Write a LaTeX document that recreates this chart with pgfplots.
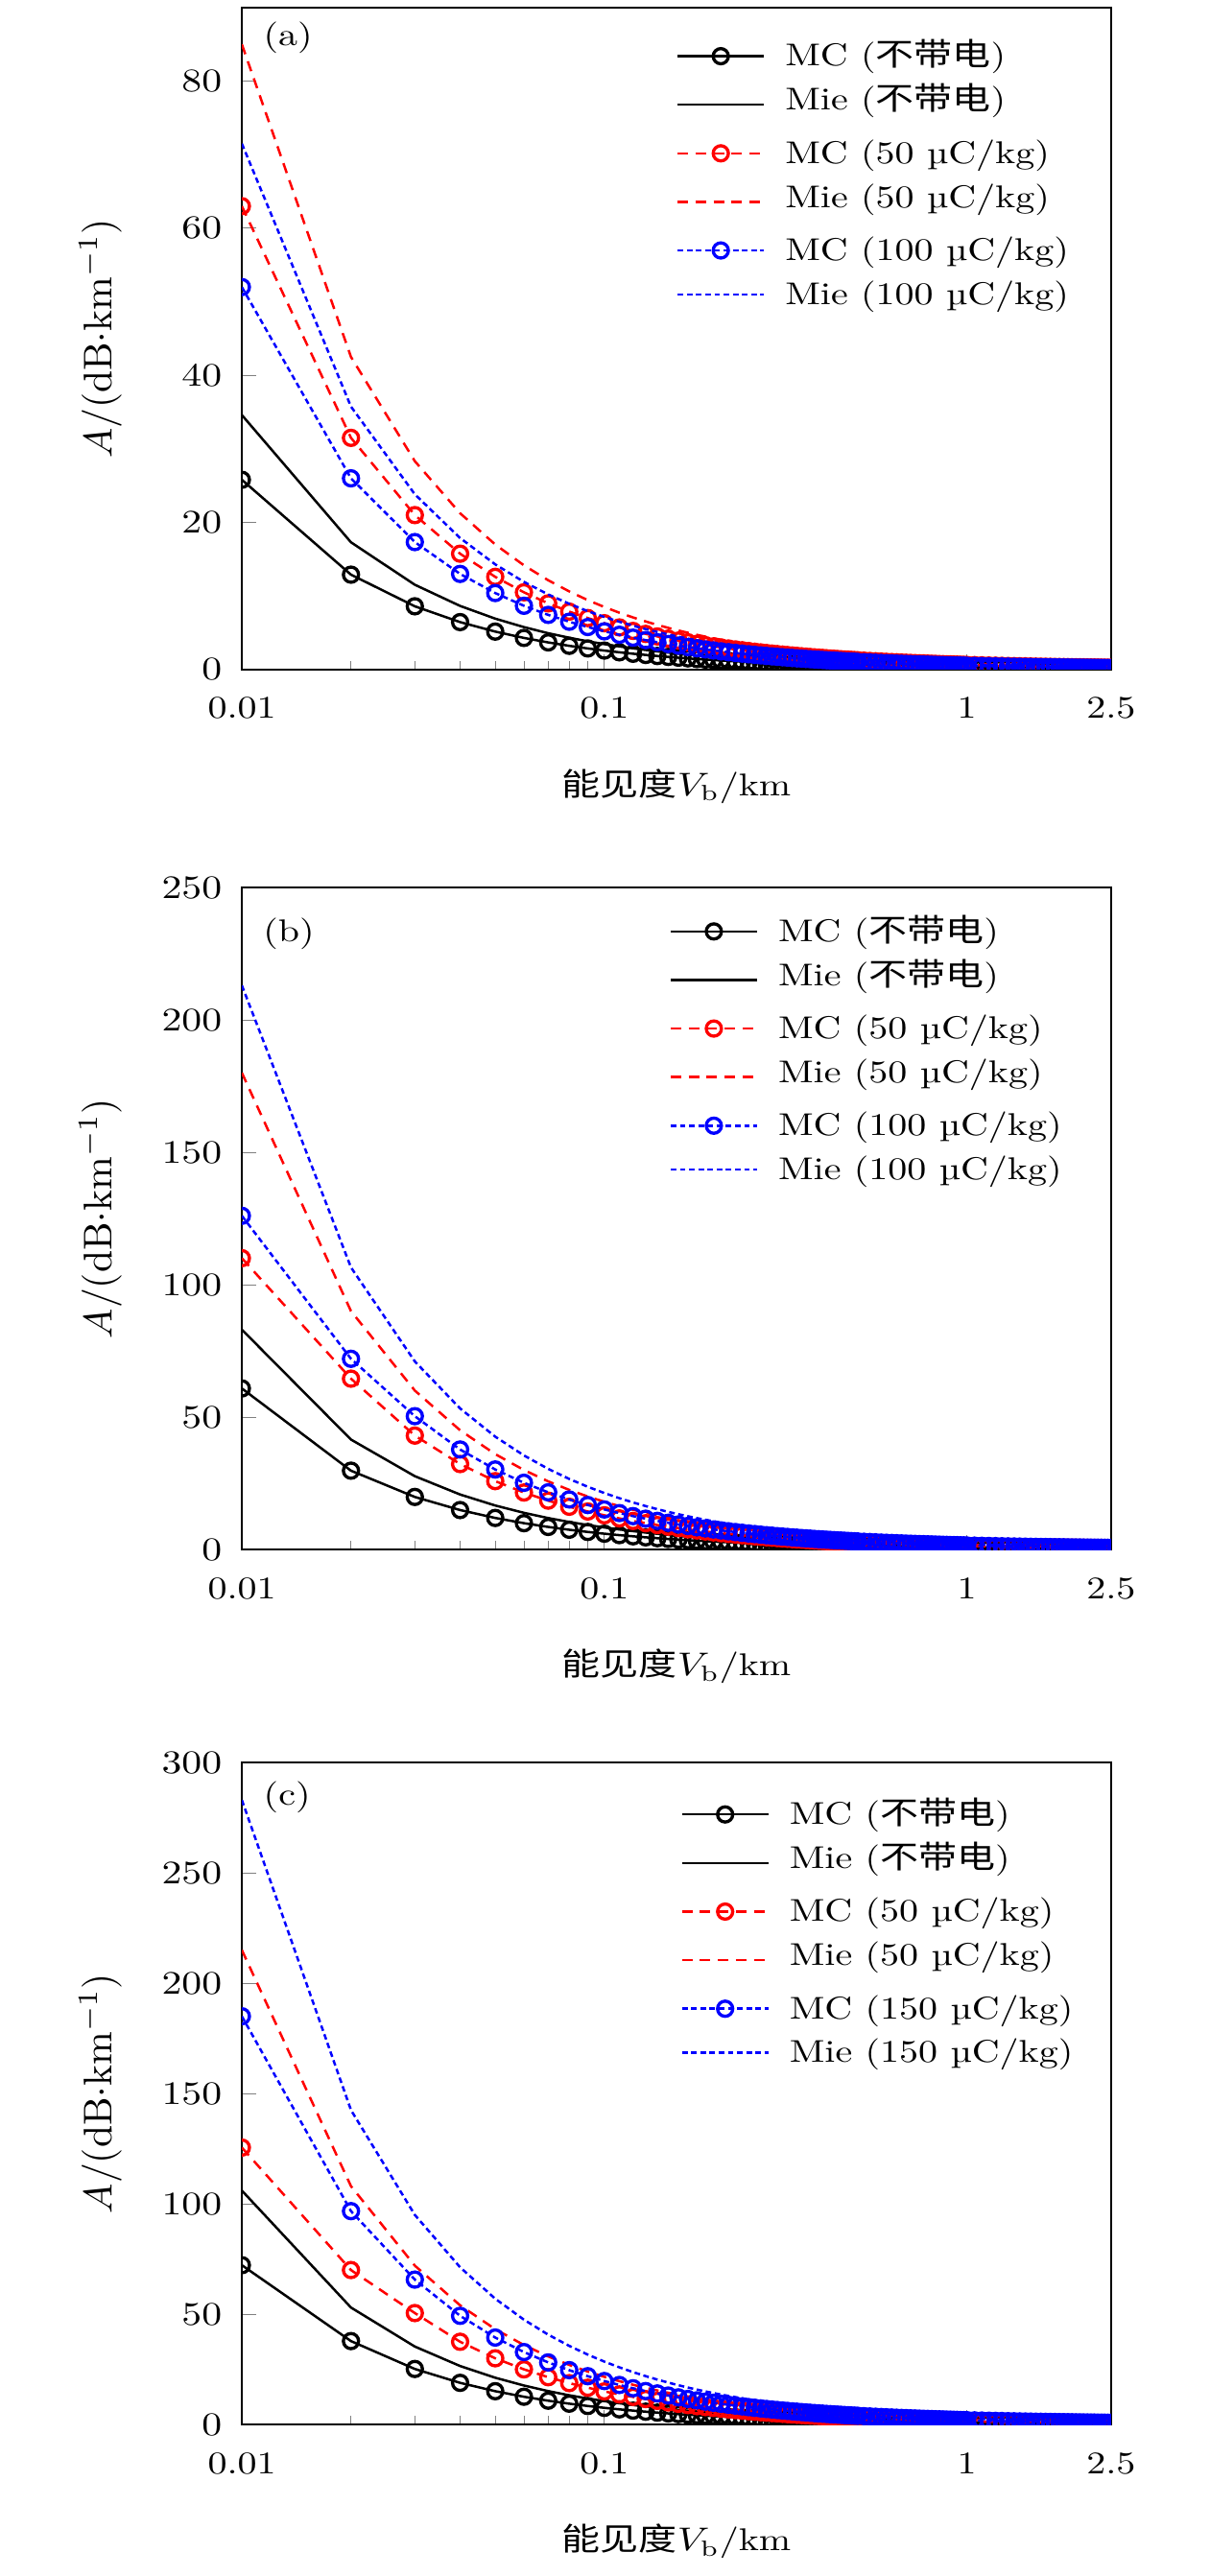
\documentclass[border=0pt]{standalone}
\usepackage{fontspec}
\usepackage{graphicx}
\usepackage{pgfplots}
\usepackage{pgfplotstable}
\pgfplotsset{compat=1.18}
\newfontfamily\cjk{Noto Sans CJK SC}
\newcommand\tf{\fontsize{9.6}{11.5}\selectfont}
\newcommand\sq[1]{\scalebox{1}[0.82]{#1}}
\newcommand\lgt[1]{{\tf\sq{#1}}}
\newcommand\sa{\rule[-3pt]{0pt}{11pt}}
\newcommand\sbb{\rule[-5.3pt]{0pt}{13.3pt}}

% columns: x, MC uncharged, Mie uncharged, MC 50, Mie 50, MC q, Mie q
\pgfplotstableread{
x a b c d e f
0.01 25.8 34.6 63.0 85.0 52.0 71.5
0.02 12.9 17.3 31.5 42.5 26.0 35.75
0.03 8.60 11.53 21.0 28.33 17.33 23.83
0.04 6.45 8.65 15.75 21.25 13.0 17.88
0.05 5.16 6.92 12.6 17.0 10.4 14.3
0.06 4.30 5.77 10.5 14.17 8.67 11.92
0.07 3.69 4.94 9.0 12.14 7.43 10.21
0.08 3.225 4.325 7.875 10.625 6.5 8.94
0.09 2.87 3.84 7.0 9.44 5.78 7.94
0.10 2.58 3.46 6.3 8.5 5.2 7.15
0.11 2.345 3.145 5.727 7.727 4.727 6.5
0.12 2.15 2.883 5.25 7.083 4.333 5.958
0.13 1.985 2.662 4.846 6.538 4.0 5.5
0.14 1.843 2.471 4.5 6.071 3.714 5.107
0.15 1.72 2.307 4.2 5.667 3.467 4.767
0.16 1.6125 2.1625 3.9375 5.3125 3.25 4.469
0.17 1.518 2.035 3.706 5.0 3.059 4.206
0.18 1.433 1.922 3.5 4.722 2.889 3.972
0.19 1.358 1.821 3.316 4.474 2.737 3.763
0.20 1.29 1.73 3.15 4.25 2.6 3.575
0.21 1.229 1.648 3.0 4.048 2.476 3.405
0.22 1.173 1.573 2.864 3.864 2.364 3.25
0.23 1.122 1.504 2.739 3.696 2.261 3.109
0.24 1.075 1.442 2.625 3.542 2.167 2.979
0.25 1.032 1.384 2.52 3.4 2.08 2.86
0.26 0.992 1.331 2.423 3.269 2.0 2.75
0.27 0.956 1.281 2.333 3.148 1.926 2.648
0.28 0.921 1.236 2.25 3.036 1.857 2.554
0.29 0.890 1.193 2.172 2.931 1.793 2.466
0.30 0.86 1.153 2.1 2.833 1.733 2.383
0.31 0.832 1.116 2.032 2.742 1.677 2.306
0.32 0.806 1.081 1.969 2.656 1.625 2.234
0.33 0.782 1.048 1.909 2.576 1.576 2.167
0.34 0.759 1.018 1.853 2.5 1.529 2.103
0.35 0.737 0.989 1.8 2.429 1.486 2.043
0.36 0.717 0.961 1.75 2.361 1.444 1.986
0.37 0.697 0.935 1.703 2.297 1.405 1.932
0.38 0.679 0.911 1.658 2.237 1.368 1.882
0.39 0.662 0.887 1.615 2.179 1.333 1.833
0.40 0.645 0.865 1.575 2.125 1.3 1.788
0.41 0.629 0.844 1.537 2.073 1.268 1.744
0.42 0.614 0.824 1.5 2.024 1.238 1.702
0.43 0.6 0.805 1.465 1.977 1.209 1.663
0.44 0.586 0.786 1.432 1.932 1.182 1.625
0.45 0.573 0.769 1.4 1.889 1.156 1.589
0.46 0.561 0.752 1.37 1.848 1.13 1.554
0.47 0.549 0.736 1.34 1.809 1.106 1.521
0.48 0.5375 0.721 1.3125 1.771 1.083 1.49
0.49 0.527 0.706 1.286 1.735 1.061 1.459
0.50 0.516 0.692 1.26 1.7 1.04 1.43
0.52 0.496 0.665 1.212 1.635 1.0 1.375
0.54 0.478 0.641 1.167 1.574 0.963 1.324
0.56 0.461 0.618 1.125 1.518 0.929 1.277
0.58 0.445 0.597 1.086 1.466 0.897 1.233
0.60 0.43 0.577 1.05 1.417 0.867 1.192
0.62 0.416 0.558 1.016 1.371 0.839 1.153
0.64 0.403 0.541 0.984 1.328 0.8125 1.117
0.66 0.391 0.524 0.955 1.288 0.788 1.083
0.68 0.379 0.509 0.926 1.25 0.765 1.051
0.70 0.369 0.494 0.9 1.214 0.743 1.021
0.72 0.358 0.481 0.875 1.181 0.722 0.993
0.74 0.349 0.468 0.851 1.149 0.703 0.966
0.76 0.339 0.455 0.829 1.118 0.684 0.941
0.78 0.331 0.444 0.808 1.09 0.667 0.917
0.80 0.3225 0.4325 0.7875 1.0625 0.65 0.894
0.82 0.315 0.422 0.768 1.037 0.634 0.872
0.84 0.307 0.412 0.75 1.012 0.619 0.851
0.86 0.3 0.402 0.733 0.988 0.605 0.831
0.88 0.293 0.393 0.716 0.966 0.591 0.8125
0.90 0.287 0.384 0.7 0.944 0.578 0.794
0.92 0.28 0.376 0.685 0.924 0.565 0.777
0.94 0.274 0.368 0.670 0.904 0.553 0.761
0.96 0.269 0.36 0.656 0.885 0.542 0.745
0.98 0.263 0.353 0.643 0.867 0.531 0.73
1.00 0.258 0.346 0.63 0.85 0.52 0.715
1.05 0.246 0.33 0.6 0.81 0.495 0.681
1.10 0.235 0.315 0.573 0.773 0.473 0.65
1.15 0.224 0.301 0.548 0.739 0.452 0.622
1.20 0.215 0.288 0.525 0.708 0.433 0.596
1.25 0.206 0.277 0.504 0.68 0.416 0.572
1.30 0.198 0.266 0.485 0.654 0.4 0.55
1.35 0.191 0.256 0.467 0.63 0.385 0.53
1.40 0.184 0.247 0.45 0.607 0.371 0.511
1.45 0.178 0.239 0.434 0.586 0.359 0.493
1.50 0.172 0.231 0.42 0.567 0.347 0.477
1.55 0.166 0.223 0.406 0.548 0.335 0.461
1.60 0.161 0.216 0.394 0.531 0.325 0.447
1.65 0.156 0.21 0.382 0.515 0.315 0.433
1.70 0.152 0.204 0.371 0.5 0.306 0.421
1.75 0.147 0.198 0.36 0.486 0.297 0.409
1.80 0.143 0.192 0.35 0.472 0.289 0.397
1.85 0.139 0.187 0.341 0.459 0.281 0.386
1.90 0.136 0.182 0.332 0.447 0.274 0.376
1.95 0.132 0.177 0.323 0.436 0.267 0.367
2.00 0.129 0.173 0.315 0.425 0.26 0.358
2.05 0.126 0.169 0.307 0.415 0.254 0.349
2.10 0.123 0.165 0.3 0.405 0.248 0.34
2.15 0.12 0.161 0.293 0.395 0.242 0.333
2.20 0.117 0.157 0.286 0.386 0.236 0.325
2.25 0.115 0.154 0.28 0.378 0.231 0.318
2.30 0.112 0.15 0.274 0.37 0.226 0.311
2.35 0.11 0.147 0.268 0.362 0.221 0.304
2.40 0.1075 0.144 0.2625 0.354 0.217 0.298
2.45 0.105 0.141 0.257 0.347 0.212 0.292
2.50 0.103 0.138 0.252 0.34 0.208 0.286
}\tA

\pgfplotstableread{
x a b c d e f
0.01 60.8 83.0 110 180 126 213
0.02 29.75 41.5 64.5 90 72 106.5
0.03 19.83 27.67 43.0 60.0 50.33 71.0
0.04 14.88 20.75 32.25 45.0 37.75 53.25
0.05 11.9 16.6 25.8 36.0 30.2 42.6
0.06 9.92 13.83 21.5 30.0 25.17 35.5
0.07 8.5 11.86 18.43 25.71 21.57 30.43
0.08 7.44 10.375 16.125 22.5 18.875 26.625
0.09 6.61 9.22 14.33 20.0 16.78 23.67
0.10 5.95 8.3 12.9 18.0 15.1 21.3
0.11 5.41 7.55 11.73 16.36 13.73 19.36
0.12 4.96 6.92 10.75 15.0 12.58 17.75
0.13 4.58 6.38 9.92 13.85 11.62 16.38
0.14 4.25 5.93 9.21 12.86 10.79 15.21
0.15 3.97 5.53 8.6 12.0 10.07 14.2
0.16 3.72 5.19 8.06 11.25 9.44 13.31
0.17 3.5 4.88 7.59 10.59 8.88 12.53
0.18 3.31 4.61 7.17 10.0 8.39 11.83
0.19 3.13 4.37 6.79 9.47 7.95 11.21
0.20 2.975 4.15 6.45 9.0 7.55 10.65
0.21 2.83 3.95 6.14 8.57 7.19 10.14
0.22 2.7 3.77 5.86 8.18 6.86 9.68
0.23 2.59 3.61 5.61 7.83 6.57 9.26
0.24 2.48 3.46 5.375 7.5 6.29 8.875
0.25 2.38 3.32 5.16 7.2 6.04 8.52
0.26 2.29 3.19 4.96 6.92 5.81 8.19
0.27 2.2 3.07 4.78 6.67 5.59 7.89
0.28 2.125 2.96 4.61 6.43 5.39 7.61
0.29 2.05 2.86 4.45 6.21 5.21 7.34
0.30 1.98 2.77 4.3 6.0 5.03 7.1
0.31 1.92 2.68 4.16 5.81 4.87 6.87
0.32 1.86 2.59 4.03 5.625 4.72 6.66
0.33 1.8 2.52 3.91 5.45 4.58 6.45
0.34 1.75 2.44 3.79 5.29 4.44 6.26
0.35 1.7 2.37 3.69 5.14 4.31 6.09
0.36 1.65 2.31 3.58 5.0 4.19 5.92
0.37 1.61 2.24 3.49 4.86 4.08 5.76
0.38 1.57 2.18 3.39 4.74 3.97 5.61
0.39 1.53 2.13 3.31 4.62 3.87 5.46
0.40 1.49 2.075 3.225 4.5 3.775 5.325
0.41 1.45 2.02 3.15 4.39 3.68 5.2
0.42 1.42 1.98 3.07 4.29 3.6 5.07
0.43 1.38 1.93 3.0 4.19 3.51 4.95
0.44 1.35 1.89 2.93 4.09 3.43 4.84
0.45 1.32 1.84 2.87 4.0 3.36 4.73
0.46 1.29 1.8 2.8 3.91 3.28 4.63
0.47 1.27 1.77 2.74 3.83 3.21 4.53
0.48 1.24 1.73 2.69 3.75 3.15 4.44
0.49 1.21 1.69 2.63 3.67 3.08 4.35
0.50 1.19 1.66 2.58 3.6 3.02 4.26
0.52 1.14 1.6 2.48 3.46 2.9 4.1
0.54 1.1 1.54 2.39 3.33 2.8 3.94
0.56 1.06 1.48 2.3 3.21 2.7 3.8
0.58 1.03 1.43 2.22 3.1 2.6 3.67
0.60 0.99 1.38 2.15 3.0 2.52 3.55
0.62 0.96 1.34 2.08 2.9 2.44 3.44
0.64 0.93 1.3 2.02 2.81 2.36 3.33
0.66 0.9 1.26 1.95 2.73 2.29 3.23
0.68 0.875 1.22 1.9 2.65 2.22 3.13
0.70 0.85 1.19 1.84 2.57 2.16 3.04
0.72 0.83 1.15 1.79 2.5 2.1 2.96
0.74 0.8 1.12 1.74 2.43 2.04 2.88
0.76 0.78 1.09 1.7 2.37 1.99 2.8
0.78 0.76 1.06 1.65 2.31 1.94 2.73
0.80 0.74 1.04 1.61 2.25 1.89 2.66
0.82 0.73 1.01 1.57 2.2 1.84 2.6
0.84 0.71 0.99 1.54 2.14 1.8 2.54
0.86 0.69 0.97 1.5 2.09 1.76 2.48
0.88 0.68 0.94 1.47 2.05 1.72 2.42
0.90 0.66 0.92 1.43 2.0 1.68 2.37
0.92 0.65 0.9 1.4 1.96 1.64 2.32
0.94 0.63 0.88 1.37 1.91 1.61 2.27
0.96 0.62 0.86 1.34 1.875 1.57 2.22
0.98 0.61 0.85 1.32 1.84 1.54 2.17
1.00 0.595 0.83 1.29 1.8 1.51 2.13
1.05 0.57 0.79 1.23 1.71 1.44 2.03
1.10 0.54 0.75 1.17 1.64 1.37 1.94
1.15 0.52 0.72 1.12 1.57 1.31 1.85
1.20 0.5 0.69 1.075 1.5 1.26 1.775
1.25 0.48 0.66 1.03 1.44 1.21 1.7
1.30 0.46 0.64 0.99 1.38 1.16 1.64
1.35 0.44 0.61 0.96 1.33 1.12 1.58
1.40 0.425 0.59 0.92 1.29 1.08 1.52
1.45 0.41 0.57 0.89 1.24 1.04 1.47
1.50 0.4 0.55 0.86 1.2 1.0 1.42
1.55 0.38 0.54 0.83 1.16 0.97 1.37
1.60 0.37 0.52 0.81 1.125 0.94 1.33
1.65 0.36 0.5 0.78 1.09 0.92 1.29
1.70 0.35 0.49 0.76 1.06 0.89 1.25
1.75 0.34 0.47 0.74 1.03 0.86 1.22
1.80 0.33 0.46 0.72 1.0 0.84 1.18
1.85 0.32 0.45 0.7 0.97 0.82 1.15
1.90 0.31 0.44 0.68 0.95 0.79 1.12
1.95 0.305 0.43 0.66 0.92 0.77 1.09
2.00 0.3 0.415 0.645 0.9 0.755 1.065
2.05 0.29 0.405 0.63 0.88 0.74 1.04
2.10 0.28 0.395 0.61 0.86 0.72 1.01
2.15 0.28 0.386 0.6 0.84 0.7 0.99
2.20 0.27 0.377 0.59 0.82 0.69 0.97
2.25 0.26 0.369 0.57 0.8 0.67 0.95
2.30 0.26 0.361 0.56 0.78 0.66 0.93
2.35 0.25 0.353 0.55 0.77 0.64 0.91
2.40 0.25 0.346 0.54 0.75 0.63 0.89
2.45 0.24 0.339 0.53 0.73 0.62 0.87
2.50 0.24 0.332 0.52 0.72 0.6 0.85
}\tB

\pgfplotstableread{
x a b c d e f
0.01 72.2 106 125.5 215 185 283
0.02 37.8 53.0 70.0 108 96.7 142.5
0.03 25.17 35.33 50.5 72.0 65.67 95.0
0.04 18.88 26.5 37.5 54.0 49.25 71.25
0.05 15.1 21.2 30.0 43.2 39.4 57.0
0.06 12.58 17.67 25.0 36.0 32.83 47.5
0.07 10.79 15.14 21.43 30.86 28.14 40.71
0.08 9.44 13.25 18.75 27.0 24.63 35.63
0.09 8.39 11.78 16.67 24.0 21.89 31.67
0.10 7.55 10.6 15.0 21.6 19.7 28.5
0.11 6.86 9.64 13.64 19.64 17.91 25.91
0.12 6.29 8.83 12.5 18.0 16.42 23.75
0.13 5.81 8.15 11.54 16.62 15.15 21.92
0.14 5.39 7.57 10.71 15.43 14.07 20.36
0.15 5.03 7.07 10.0 14.4 13.13 19.0
0.16 4.72 6.625 9.375 13.5 12.31 17.81
0.17 4.44 6.24 8.82 12.71 11.59 16.76
0.18 4.19 5.89 8.33 12.0 10.94 15.83
0.19 3.97 5.58 7.89 11.37 10.37 15.0
0.20 3.775 5.3 7.5 10.8 9.85 14.25
0.21 3.6 5.05 7.14 10.29 9.38 13.57
0.22 3.43 4.82 6.82 9.82 8.95 12.95
0.23 3.28 4.61 6.52 9.39 8.57 12.39
0.24 3.15 4.42 6.25 9.0 8.21 11.875
0.25 3.02 4.24 6.0 8.64 7.88 11.4
0.26 2.9 4.08 5.77 8.31 7.58 10.96
0.27 2.8 3.93 5.56 8.0 7.3 10.56
0.28 2.7 3.79 5.36 7.71 7.04 10.18
0.29 2.6 3.66 5.17 7.45 6.79 9.83
0.30 2.52 3.53 5.0 7.2 6.57 9.5
0.31 2.44 3.42 4.84 6.97 6.35 9.19
0.32 2.36 3.31 4.69 6.75 6.16 8.91
0.33 2.29 3.21 4.55 6.55 5.97 8.64
0.34 2.22 3.12 4.41 6.35 5.79 8.38
0.35 2.16 3.03 4.29 6.17 5.63 8.14
0.36 2.1 2.94 4.17 6.0 5.47 7.92
0.37 2.04 2.86 4.05 5.84 5.32 7.7
0.38 1.99 2.79 3.95 5.68 5.18 7.5
0.39 1.94 2.72 3.85 5.54 5.05 7.31
0.40 1.89 2.65 3.75 5.4 4.925 7.125
0.41 1.84 2.59 3.66 5.27 4.8 6.95
0.42 1.8 2.52 3.57 5.14 4.69 6.79
0.43 1.76 2.47 3.49 5.02 4.58 6.63
0.44 1.72 2.41 3.41 4.91 4.48 6.48
0.45 1.68 2.36 3.33 4.8 4.38 6.33
0.46 1.64 2.3 3.26 4.7 4.28 6.2
0.47 1.61 2.26 3.19 4.6 4.19 6.06
0.48 1.57 2.21 3.125 4.5 4.1 5.94
0.49 1.54 2.16 3.06 4.41 4.02 5.82
0.50 1.51 2.12 3.0 4.32 3.94 5.7
0.52 1.45 2.04 2.88 4.15 3.79 5.48
0.54 1.4 1.96 2.78 4.0 3.65 5.28
0.56 1.35 1.89 2.68 3.86 3.52 5.09
0.58 1.3 1.83 2.59 3.72 3.4 4.91
0.60 1.26 1.77 2.5 3.6 3.28 4.75
0.62 1.22 1.71 2.42 3.48 3.18 4.6
0.64 1.18 1.66 2.34 3.375 3.08 4.45
0.66 1.14 1.61 2.27 3.27 2.98 4.32
0.68 1.11 1.56 2.21 3.18 2.9 4.19
0.70 1.08 1.51 2.14 3.09 2.81 4.07
0.72 1.05 1.47 2.08 3.0 2.74 3.96
0.74 1.02 1.43 2.03 2.92 2.66 3.85
0.76 0.99 1.39 1.97 2.84 2.59 3.75
0.78 0.97 1.36 1.92 2.77 2.53 3.65
0.80 0.94 1.325 1.875 2.7 2.46 3.56
0.82 0.92 1.29 1.83 2.63 2.4 3.48
0.84 0.9 1.26 1.79 2.57 2.35 3.39
0.86 0.88 1.23 1.74 2.51 2.29 3.31
0.88 0.86 1.2 1.7 2.45 2.24 3.24
0.90 0.84 1.18 1.67 2.4 2.19 3.17
0.92 0.82 1.15 1.63 2.35 2.14 3.1
0.94 0.8 1.13 1.6 2.3 2.1 3.03
0.96 0.79 1.1 1.56 2.25 2.05 2.97
0.98 0.77 1.08 1.53 2.2 2.01 2.91
1.00 0.755 1.06 1.5 2.16 1.97 2.85
1.05 0.72 1.01 1.43 2.06 1.88 2.71
1.10 0.69 0.96 1.36 1.96 1.79 2.59
1.15 0.66 0.92 1.3 1.88 1.71 2.48
1.20 0.63 0.88 1.25 1.8 1.64 2.375
1.25 0.6 0.85 1.2 1.73 1.58 2.28
1.30 0.58 0.82 1.15 1.66 1.52 2.19
1.35 0.56 0.79 1.11 1.6 1.46 2.11
1.40 0.54 0.76 1.07 1.54 1.41 2.04
1.45 0.52 0.73 1.03 1.49 1.36 1.97
1.50 0.5 0.71 1.0 1.44 1.31 1.9
1.55 0.49 0.68 0.97 1.39 1.27 1.84
1.60 0.47 0.66 0.94 1.35 1.23 1.78
1.65 0.46 0.64 0.91 1.31 1.19 1.73
1.70 0.44 0.62 0.88 1.27 1.16 1.68
1.75 0.43 0.61 0.86 1.23 1.13 1.63
1.80 0.42 0.59 0.83 1.2 1.09 1.58
1.85 0.41 0.57 0.81 1.17 1.06 1.54
1.90 0.4 0.56 0.79 1.14 1.04 1.5
1.95 0.39 0.54 0.77 1.11 1.01 1.46
2.00 0.38 0.53 0.75 1.08 0.985 1.425
2.05 0.37 0.52 0.73 1.05 0.96 1.39
2.10 0.36 0.5 0.71 1.03 0.94 1.36
2.15 0.35 0.49 0.7 1.0 0.92 1.33
2.20 0.34 0.48 0.68 0.98 0.9 1.3
2.25 0.34 0.47 0.67 0.96 0.88 1.27
2.30 0.33 0.46 0.65 0.94 0.86 1.24
2.35 0.32 0.45 0.64 0.92 0.84 1.21
2.40 0.31 0.44 0.625 0.9 0.82 1.19
2.45 0.31 0.43 0.61 0.88 0.8 1.16
2.50 0.3 0.42 0.6 0.86 0.79 1.14
}\tC

\pgfplotsset{
  every axis/.append style={
    scale only axis, width=217.4pt, height=165.6pt,
    xmin=0.01, xmax=2.5,
    xtick={0.01,0.1,1,2.5}, xticklabels={0.01,0.1,1,2.5},
    minor xtick={0.02,0.03,0.04,0.05,0.06,0.07,0.08,0.09,0.2,0.3,0.4,0.5,0.6,0.7,0.8,0.9,2},
    xtick pos=bottom, ytick pos=left, tick align=inside,
    major tick length=3.7pt, minor tick length=2.2pt,
    axis line style={line width=0.55pt},
    ymin=0,
    tick label style={font=\tf, yscale=0.82},
    xticklabel style={yshift=-5pt},
    yticklabel style={xshift=-1.5pt},
    xlabel={\sq{{\cjk 能见度}$V_\mathrm{b}$/km}},
    ylabel={$A/(\mathrm{dB{\cdot}km^{-1}})$},
    xlabel style={at={(axis description cs:0.5,-0.177)},anchor=center,font=\tf},
    ylabel style={at={(axis description cs:-0.163,0.5)},anchor=center},
    clip marker paths=true,
    legend cell align=left,
  },
  legend image code/.code={\draw[mark repeat=2,mark phase=2,#1] plot coordinates {(0pt,0pt) (10.8pt,0pt) (21.6pt,0pt)};},
  mc/.style={mark=o, mark size=1.9pt, mark options={solid, line width=0.8pt}},
  k0/.style={black, line width=0.6pt, solid},
  k1/.style={red, line width=0.6pt, dash pattern=on 2.6pt off 1.9pt},
  k2/.style={blue, line width=0.6pt, dash pattern=on 1.4pt off 0.9pt},
}

\begin{document}
\begin{tikzpicture}
\path[use as bounding box] (0,0) rectangle (302.4pt,-644.4pt);

% (a)
\begin{axis}[xmode=log, at={(60.5pt,-1.9pt)}, anchor=north west,
  ymax=90, ytick={0,20,40,60,80},
  legend style={at={(0.499,0.961)}, anchor=north west, draw=none, fill=none, inner sep=0pt, row sep=0pt, column sep=3pt, font=\tf, nodes={inner xsep=2pt, inner ysep=0pt, text depth=, text height=}}]
\addplot[k0,mc] table[x=x,y=a]{\tA}; \addlegendentry{\lgt{MC ({\cjk 不带电})}\sa}
\addplot[k0] table[x=x,y=b]{\tA}; \addlegendentry{\lgt{Mie ({\cjk 不带电})}\sbb}
\addplot[k1,mc] table[x=x,y=c]{\tA}; \addlegendentry{\lgt{MC (50 µC/kg)}\sa}
\addplot[k1] table[x=x,y=d]{\tA}; \addlegendentry{\lgt{Mie (50 µC/kg)}\sbb}
\addplot[k2,mc] table[x=x,y=e]{\tA}; \addlegendentry{\lgt{MC (100 µC/kg)}\sa}
\addplot[k2] table[x=x,y=f]{\tA}; \addlegendentry{\lgt{Mie (100 µC/kg)}\sa}
\node[font=\tf] at (rel axis cs:0.053,0.954) {\sq{(a)}};
\end{axis}

% (b)
\begin{axis}[xmode=log, at={(60.5pt,-222pt)}, anchor=north west,
  ymax=250, ytick={0,50,100,150,200,250},
  legend style={at={(0.491,0.968)}, anchor=north west, draw=none, fill=none, inner sep=0pt, row sep=0pt, column sep=3pt, font=\tf, nodes={inner xsep=2pt, inner ysep=0pt, text depth=, text height=}}]
\addplot[k0,mc] table[x=x,y=a]{\tB}; \addlegendentry{\lgt{MC ({\cjk 不带电})}\sa}
\addplot[k0] table[x=x,y=b]{\tB}; \addlegendentry{\lgt{Mie ({\cjk 不带电})}\sbb}
\addplot[k1,mc] table[x=x,y=c]{\tB}; \addlegendentry{\lgt{MC (50 µC/kg)}\sa}
\addplot[k1] table[x=x,y=d]{\tB}; \addlegendentry{\lgt{Mie (50 µC/kg)}\sbb}
\addplot[k2,mc] table[x=x,y=e]{\tB}; \addlegendentry{\lgt{MC (100 µC/kg)}\sa}
\addplot[k2] table[x=x,y=f]{\tB}; \addlegendentry{\lgt{Mie (100 µC/kg)}\sa}
\node[font=\tf] at (rel axis cs:0.054,0.93) {\sq{(b)}};
\end{axis}

% (c)
\begin{axis}[xmode=log, at={(60.5pt,-440.9pt)}, anchor=north west,
  ymax=300, ytick={0,50,100,150,200,250,300},
  legend style={at={(0.504,0.956)}, anchor=north west, draw=none, fill=none, inner sep=0pt, row sep=0pt, column sep=3pt, font=\tf, nodes={inner xsep=2pt, inner ysep=0pt, text depth=, text height=}}]
\addplot[k0,mc] table[x=x,y=a]{\tC}; \addlegendentry{\lgt{MC ({\cjk 不带电})}\sa}
\addplot[k0] table[x=x,y=b]{\tC}; \addlegendentry{\lgt{Mie ({\cjk 不带电})}\sbb}
\addplot[k1,mc] table[x=x,y=c]{\tC}; \addlegendentry{\lgt{MC (50 µC/kg)}\sa}
\addplot[k1] table[x=x,y=d]{\tC}; \addlegendentry{\lgt{Mie (50 µC/kg)}\sbb}
\addplot[k2,mc] table[x=x,y=e]{\tC}; \addlegendentry{\lgt{MC (150 µC/kg)}\sa}
\addplot[k2] table[x=x,y=f]{\tC}; \addlegendentry{\lgt{Mie (150 µC/kg)}\sa}
\node[font=\tf] at (rel axis cs:0.052,0.948) {\sq{(c)}};
\end{axis}
\end{tikzpicture}
\end{document}
